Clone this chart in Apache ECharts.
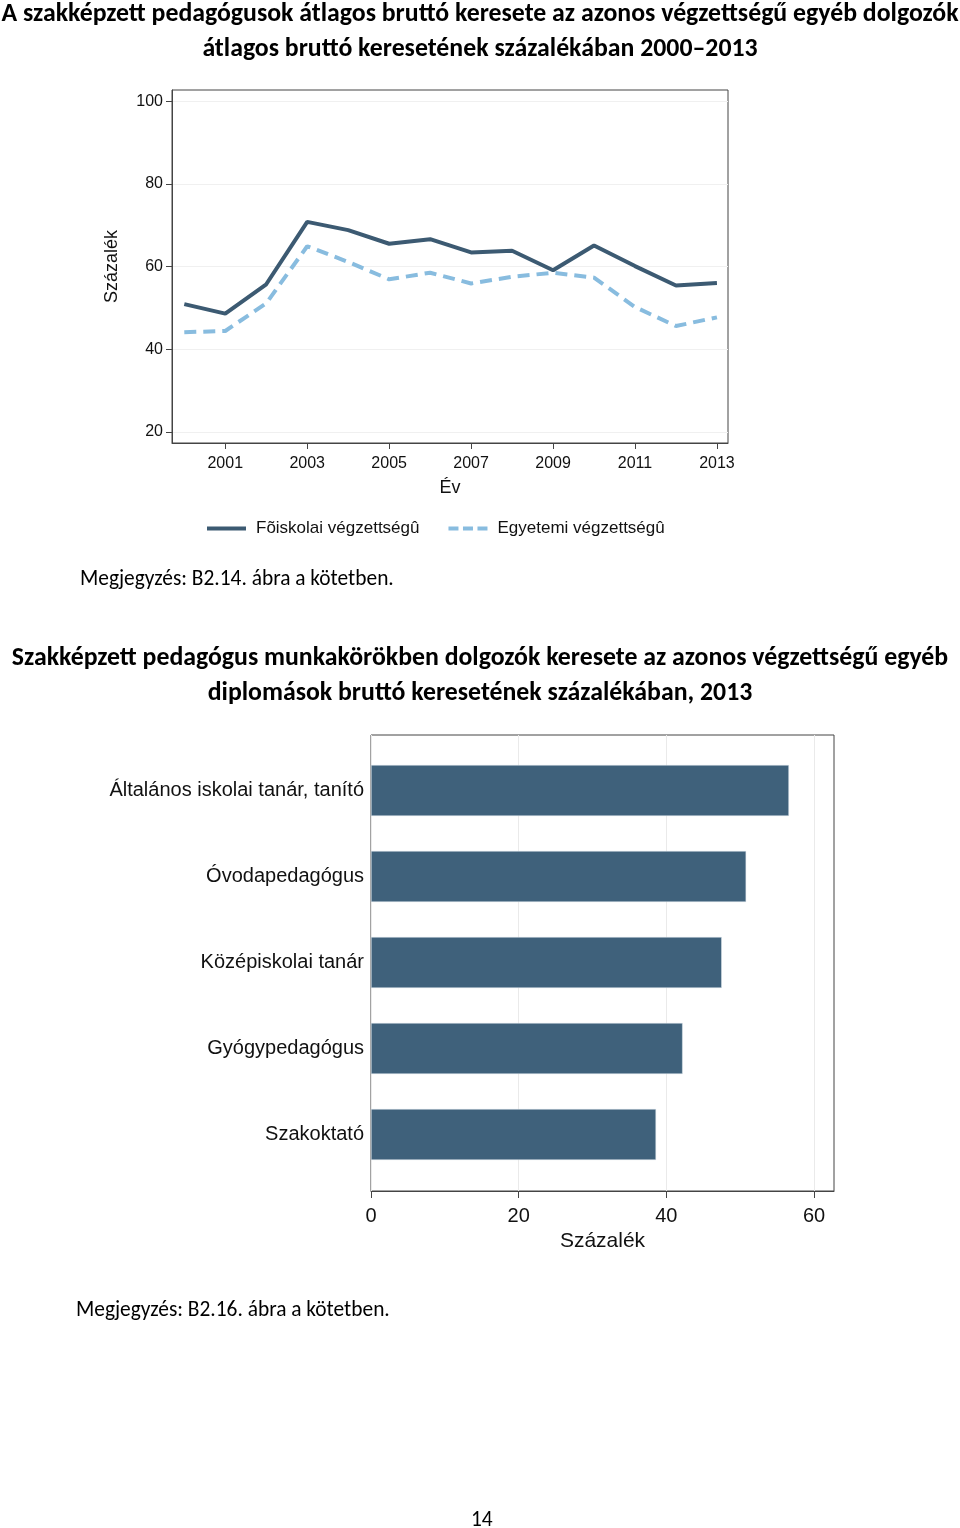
<!DOCTYPE html>
<html><head><meta charset="utf-8">
<script src="https://cdn.jsdelivr.net/npm/echarts@6/dist/echarts.min.js"></script>
<style>html,body{margin:0;padding:0;background:#fff}#c{width:960px;height:1528px}</style>
</head><body><div id="c"></div>
<script>
// ---- Data: line chart ----
const years = [2000, 2001, 2002, 2003, 2004, 2005, 2006, 2007, 2008, 2009, 2010, 2011, 2012, 2013];
const foiskolai = [50.9, 48.6, 55.7, 70.8, 68.8, 65.5, 66.6, 63.4, 63.8, 59.1, 65.1, 60.1, 55.4, 56.0];
const egyetemi = [44.1, 44.4, 51.1, 64.9, 61.1, 56.9, 58.5, 55.9, 57.5, 58.5, 57.3, 50.2, 45.6, 47.7];
const lineYTicks = [20, 40, 60, 80, 100];
const lineXTicks = [2001, 2003, 2005, 2007, 2009, 2011, 2013];
const seriesNames = ['Fõiskolai végzettségû', 'Egyetemi végzettségû'];
// ---- Data: bar chart ----
const barCategories = ['Általános iskolai tanár, tanító', 'Óvodapedagógus', 'Középiskolai tanár', 'Gyógypedagógus', 'Szakoktató'];
const barValues = [56.6, 50.8, 47.5, 42.2, 38.6];
const barTicks = [0, 20, 40, 60];
// ---- Texts ----
const title1 = 'A szakképzett pedagógusok átlagos bruttó keresete az azonos végzettségű egyéb dolgozók\nátlagos bruttó keresetének százalékában 2000–2013';
const note1 = 'Megjegyzés: B2.14. ábra a kötetben.';
const title2 = 'Szakképzett pedagógus munkakörökben dolgozók keresete az azonos végzettségű egyéb\ndiplomások bruttó keresetének százalékában, 2013';
const note2 = 'Megjegyzés: B2.16. ábra a kötetben.';
const pageNo = '14';

const chartFont = "'Liberation Sans', Arial, sans-serif";
const docFont = "Carlito, 'Liberation Sans Narrow', Lato, sans-serif";
const cSolid = '#3c5a72', cDash = '#88bcdf', cBar = '#3f617b';

const chart = echarts.init(document.getElementById('c'), null, {renderer: 'canvas'});
const axisCol = '#444';
const yearFmt = v => String(Math.round(v));
chart.setOption({
  animation: false,
  backgroundColor: '#fff',
  title: [
    {text: title1, left: 'center', top: -3, padding: 0,
     textStyle: {fontFamily: docFont, fontWeight: 'bold', fontSize: 25.8, lineHeight: 35, color: '#000', align: 'center'}},
    {text: note1, left: 80, top: 569, padding: 0, textStyle: {fontFamily: docFont, fontWeight: 'normal', fontSize: 21.4, color: '#000'}},
    {text: title2, left: 'center', top: 641, padding: 0,
     textStyle: {fontFamily: docFont, fontWeight: 'bold', fontSize: 25.8, lineHeight: 35, color: '#000', align: 'center'}},
    {text: note2, left: 76, top: 1300, padding: 0, textStyle: {fontFamily: docFont, fontWeight: 'normal', fontSize: 21.4, color: '#000'}},
    {text: pageNo, left: 471, top: 1510, padding: 0, textStyle: {fontFamily: docFont, fontWeight: 'normal', fontSize: 21.4, color: '#000'}}
  ],
  legend: {
    data: [
      {name: seriesNames[0], icon: 'path://M0,0h39v4h-39z'},
      {name: seriesNames[1], icon: 'path://M0,0h10v4h-10zM14.5,0h10v4h-10zM29,0h10v4h-10z'}
    ],
    left: 207, top: 520, padding: 0, itemWidth: 39, itemHeight: 4, itemGap: 29,
    textStyle: {fontFamily: chartFont, fontSize: 17, color: '#111', padding: [0, 0, 0, 5]}
  },
  grid: [
    {left: 172, top: 90, width: 556, height: 353, show: true, borderColor: axisCol, borderWidth: 1, containLabel: false},
    {left: 371, top: 747.5, width: 463, height: 430, containLabel: false},
    {left: 371, top: 735, width: 463, height: 456, show: true, borderColor: axisCol, borderWidth: 1, containLabel: false}
  ],
  xAxis: [
    {gridIndex: 0, type: 'value', min: 1999.7, max: 2013.27, name: 'Év', nameLocation: 'middle', nameGap: 36,
     nameTextStyle: {fontFamily: chartFont, fontSize: 18, color: '#111'},
     axisLine: {show: true, onZero: false, lineStyle: {color: axisCol}},
     axisTick: {show: true, length: 6, customValues: lineXTicks, lineStyle: {color: axisCol}},
     axisLabel: {customValues: lineXTicks, formatter: yearFmt, fontFamily: chartFont, fontSize: 16, color: '#111', margin: 13},
     splitLine: {show: false}},
    {gridIndex: 1, type: 'value', min: 0, max: 62.7, show: false},
    {gridIndex: 2, type: 'value', min: 0, max: 62.7, name: 'Százalék', nameLocation: 'middle', nameGap: 40,
     nameTextStyle: {fontFamily: chartFont, fontSize: 21, color: '#111'},
     axisLine: {show: true, onZero: false, lineStyle: {color: axisCol}},
     axisTick: {show: true, length: 7, customValues: barTicks, lineStyle: {color: axisCol}},
     axisLabel: {customValues: barTicks, fontFamily: chartFont, fontSize: 20, color: '#111', margin: 15},
     splitLine: {show: true, lineStyle: {color: '#eaeaea'}}}
  ],
  yAxis: [
    {gridIndex: 0, type: 'value', min: 17.3, max: 102.7, name: 'Százalék', nameLocation: 'middle', nameGap: 51,
     nameTextStyle: {fontFamily: chartFont, fontSize: 18, color: '#111'},
     axisLine: {show: true, onZero: false, lineStyle: {color: axisCol}},
     axisTick: {show: true, length: 6, customValues: lineYTicks, lineStyle: {color: axisCol}},
     axisLabel: {customValues: lineYTicks, fontFamily: chartFont, fontSize: 16, color: '#111', margin: 9},
     splitLine: {show: true, lineStyle: {color: '#f0f0f0'}}},
    {gridIndex: 1, type: 'category', data: barCategories, inverse: true,
     axisLine: {show: false}, axisTick: {show: false},
     axisLabel: {fontFamily: chartFont, fontSize: 20, color: '#111', margin: 7}},
    {gridIndex: 2, type: 'value', min: 0, max: 1, show: false}
  ],
  series: [
    {name: seriesNames[0], type: 'line', xAxisIndex: 0, yAxisIndex: 0, symbol: 'none',
     data: years.map((y, i) => [y, foiskolai[i]]), lineStyle: {color: cSolid, width: 4}, itemStyle: {color: cSolid}, z: 3},
    {name: seriesNames[1], type: 'line', xAxisIndex: 0, yAxisIndex: 0, symbol: 'none',
     data: years.map((y, i) => [y, egyetemi[i]]), lineStyle: {color: cDash, width: 4, type: [12, 7]}, itemStyle: {color: cDash}, z: 2},
    {type: 'bar', xAxisIndex: 1, yAxisIndex: 1, data: barValues, barWidth: 51,
     itemStyle: {color: cBar, borderColor: '#dfe6ec', borderWidth: 0.5}, z: 3}
  ]
});
</script></body></html>
